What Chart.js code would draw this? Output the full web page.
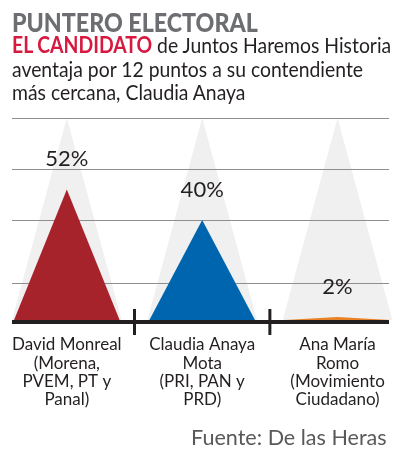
<!DOCTYPE html>
<html><head><meta charset="utf-8">
<script src="https://cdn.jsdelivr.net/npm/chart.js@4/dist/chart.umd.min.js"></script>
<style>
html,body{margin:0;padding:0;background:#fff;width:408px;height:472px;overflow:hidden;}
#wrap{position:relative;width:408px;height:472px;}
#c{position:absolute;left:0;top:0;}
.t{position:absolute;left:12px;white-space:nowrap;transform-origin:0 0;font-family:Lato,'Noto Sans',sans-serif;}
#title{top:8px;font-size:27px;line-height:27px;font-weight:900;color:#6d6e71;transform:scaleX(0.86);}
#sub{top:33px;font-size:22px;line-height:23.5px;color:#231f20;transform:scaleX(0.88);}
#sub b{color:#d7193f;font-weight:700;}
#src{position:absolute;right:21px;top:426px;font-size:22px;line-height:22px;color:#58595b;font-family:Lato,'Noto Sans',sans-serif;white-space:nowrap;transform-origin:100% 0;transform:scaleX(0.98);}
</style></head>
<body><div id="wrap">
<canvas id="c" width="408" height="472"></canvas>
<div class="t" id="title">PUNTERO ELECTORAL</div>
<div class="t" id="sub"><b>EL CANDIDATO</b> de Juntos Haremos Historia<br>aventaja por 12 puntos a su contendiente<br>más cercana, Claudia Anaya</div>
<div id="src">Fuente: De las Heras</div>
</div>
<script>
// ---- data ----
const candidateLabels = [
  ['David Monreal', '(Morena,', 'PVEM, PT y', 'Panal)'],
  ['Claudia Anaya', 'Mota', '(PRI, PAN y', 'PRD)'],
  ['Ana María', 'Romo', '(Movimiento', 'Ciudadano)']
];
const votePct = [52, 40, 2];
const gridValues = [0, 15, 40, 60, 80];
const axisMax = 80;

// ---- styles ----
const barColors = ['#a6232b', '#0065af', '#e88225'];
const ghostColor = '#f0f0f0';
const inkColor = '#231f20';
const FONT = "Lato, 'Noto Sans', sans-serif";

const triangles = {
  id: 'triangles',
  beforeDraw(chart) {
    const ctx = chart.ctx, ys = chart.scales.y;
    const top = ys.getPixelForValue(ys.max);
    ctx.save();
    ctx.fillStyle = ghostColor;
    chart.getDatasetMeta(0).data.forEach(el => {
      const p = el.getProps(['x', 'base', 'width'], true);
      ctx.beginPath();
      ctx.moveTo(p.x - p.width / 2 - 2, p.base);
      ctx.lineTo(p.x, top);
      ctx.lineTo(p.x + p.width / 2 + 2, p.base);
      ctx.closePath();
      ctx.fill();
    });
    ctx.restore();
  },
  beforeDatasetDraw(chart, args) {
    const ctx = chart.ctx;
    ctx.save();
    args.meta.data.forEach((el, i) => {
      const p = el.getProps(['x', 'y', 'base', 'width'], true);
      ctx.fillStyle = barColors[i];
      ctx.beginPath();
      ctx.moveTo(p.x - p.width / 2, p.base);
      ctx.lineTo(p.x, p.y);
      ctx.lineTo(p.x + p.width / 2, p.base);
      ctx.closePath();
      ctx.fill();
    });
    ctx.restore();
    return false;
  },
  afterDraw(chart) {
    const ctx = chart.ctx, xs = chart.scales.x, ys = chart.scales.y;
    const base = ys.getPixelForValue(0);
    ctx.save();
    // value labels
    ctx.fillStyle = inkColor;
    ctx.font = '22px ' + FONT;
    ctx.textAlign = 'center';
    ctx.textBaseline = 'middle';
    chart.getDatasetMeta(0).data.forEach((el, i) => {
      const p = el.getProps(['x', 'y'], true);
      ctx.fillText(votePct[i] + '%', p.x, p.y - 30);
    });
    // dividers between candidates
    ctx.strokeStyle = inkColor;
    ctx.lineWidth = 3;
    for (let i = 0; i < votePct.length - 1; i++) {
      const x = xs.getPixelForValue(i + 0.5);
      ctx.beginPath();
      ctx.moveTo(x, base - 13);
      ctx.lineTo(x, base + 13);
      ctx.stroke();
    }
    ctx.restore();
  }
};

new Chart(document.getElementById('c'), {
  type: 'bar',
  data: {
    datasets: [{
      data: votePct.map((v, i) => ({ x: i, y: v })),
      backgroundColor: barColors,
      categoryPercentage: 1,
      barPercentage: 0.78
    }]
  },
  options: {
    responsive: false,
    animation: false,
    layout: { padding: { top: 118, left: 12, right: 19, bottom: 0 } },
    plugins: { legend: { display: false }, tooltip: { enabled: false } },
    scales: {
      x: {
        type: 'linear',
        offset: false,
        min: -0.405,
        max: 2.38,
        afterBuildTicks(s) { s.ticks = candidateLabels.map((_, i) => ({ value: i })); },
        afterFit(s) { s.height = 150; },
        grid: { display: false },
        border: { display: false },
        ticks: {
          autoSkip: false,
          maxRotation: 0,
          padding: 6,
          color: inkColor,
          font: { family: FONT, size: 17, lineHeight: 1.06 },
          callback: (v) => candidateLabels[v]
        }
      },
      y: {
        min: 0,
        max: axisMax,
        z: 1,
        afterBuildTicks(s) { s.ticks = gridValues.map(v => ({ value: v })); },
        afterFit(s) { s.width = 0; },
        border: { display: false },
        ticks: { display: false },
        grid: {
          drawTicks: false,
          color: ctx => ctx.tick && ctx.tick.value === 0 ? inkColor : '#8e8e8e',
          lineWidth: ctx => ctx.tick && ctx.tick.value === 0 ? 4 : 1
        }
      }
    }
  },
  plugins: [triangles]
});
</script>
</body></html>
